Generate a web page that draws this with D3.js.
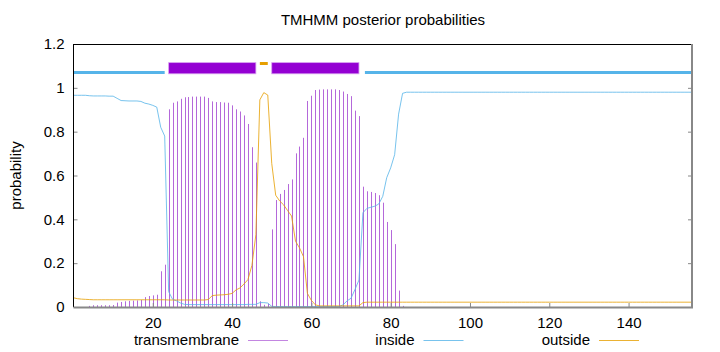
<!DOCTYPE html>
<html>
<head>
<meta charset="utf-8">
<script src="https://cdn.jsdelivr.net/npm/d3@7"></script>
<style>
body { margin: 0; background: #fff; }
text { font-family: "Liberation Sans", Arial, sans-serif; font-size: 15px; fill: #000; }
</style>
</head>
<body>
<svg width="720" height="352"></svg>
<script>
/* global d3 */

/////////////////////////////////////////////////////////////////////////
// data (posterior per residue; index = position)

var transmembrane = [
	0, 0, 0, 0, 0.005, 0.008, 0.008, 0.008, 0.008, 0.008,
	0.009, 0.02, 0.023, 0.026, 0.028, 0.029, 0.03, 0.032, 0.045, 0.05,
	0.053, 0.056, 0.163, 0.193, 0.902, 0.932, 0.938, 0.95, 0.957, 0.958,
	0.96, 0.96, 0.96, 0.96, 0.954, 0.938, 0.935, 0.935, 0.933, 0.932,
	0.92, 0.902, 0.892, 0.874, 0.835, 0.729, 0.659, 0.026, 0.01, 0.015,
	0.354, 0.488, 0.516, 0.534, 0.561, 0.582, 0.701, 0.732, 0.772, 0.94,
	0.964, 0.99, 0.992, 0.993, 0.993, 0.993, 0.993, 0.99, 0.983, 0.972,
	0.962, 0.896, 0.871, 0.549, 0.528, 0.525, 0.52, 0.51, 0.476, 0.388,
	0.351, 0.287, 0.075, 0.005, 0, 0, 0, 0, 0, 0,
	0, 0, 0, 0, 0, 0, 0, 0, 0, 0,
	0, 0, 0, 0, 0, 0, 0, 0, 0, 0,
	0, 0, 0, 0, 0, 0, 0, 0, 0, 0,
	0, 0, 0, 0, 0, 0, 0, 0, 0, 0,
	0, 0, 0, 0, 0, 0, 0, 0, 0, 0,
	0, 0, 0, 0, 0, 0, 0, 0, 0, 0,
	0, 0, 0, 0, 0, 0, 0
]

var inside = [
	0.966, 0.966, 0.966, 0.966, 0.964, 0.963, 0.963, 0.963, 0.963, 0.962,
	0.962, 0.952, 0.942, 0.941, 0.94, 0.94, 0.94, 0.938, 0.93, 0.926,
	0.92, 0.912, 0.82, 0.78, 0.07, 0.035, 0.028, 0.018, 0.012, 0.011,
	0.011, 0.011, 0.011, 0.011, 0.011, 0.011, 0.011, 0.011, 0.011, 0.011,
	0.011, 0.011, 0.011, 0.011, 0.012, 0.012, 0.012, 0.02, 0.02, 0.018,
	0.003, 0.002, 0.002, 0.002, 0.002, 0.002, 0.002, 0.002, 0.002, 0.002,
	0.002, 0.002, 0.002, 0.002, 0.002, 0.002, 0.002, 0.002, 0.01, 0.028,
	0.04, 0.08, 0.123, 0.43, 0.45, 0.455, 0.46, 0.47, 0.505, 0.59,
	0.635, 0.695, 0.88, 0.975, 0.98, 0.98, 0.98, 0.98, 0.98, 0.98,
	0.98, 0.98, 0.98, 0.98, 0.98, 0.98, 0.98, 0.98, 0.98, 0.98,
	0.98, 0.98, 0.98, 0.98, 0.98, 0.98, 0.98, 0.98, 0.98, 0.98,
	0.98, 0.98, 0.98, 0.98, 0.98, 0.98, 0.98, 0.98, 0.98, 0.98,
	0.98, 0.98, 0.98, 0.98, 0.98, 0.98, 0.98, 0.98, 0.98, 0.98,
	0.98, 0.98, 0.98, 0.98, 0.98, 0.98, 0.98, 0.98, 0.98, 0.98,
	0.98, 0.98, 0.98, 0.98, 0.98, 0.98, 0.98, 0.98, 0.98, 0.98,
	0.98, 0.98, 0.98, 0.98, 0.98, 0.98, 0.98
]

var outside = [
	0.042, 0.038, 0.036, 0.035, 0.034, 0.033, 0.033, 0.033, 0.033, 0.033,
	0.033, 0.033, 0.033, 0.033, 0.033, 0.033, 0.033, 0.033, 0.033, 0.033,
	0.033, 0.033, 0.033, 0.033, 0.032, 0.032, 0.032, 0.032, 0.032, 0.032,
	0.032, 0.032, 0.032, 0.032, 0.034, 0.052, 0.054, 0.055, 0.056, 0.058,
	0.062, 0.078, 0.087, 0.105, 0.125, 0.19, 0.33, 0.945, 0.978, 0.967,
	0.655, 0.51, 0.484, 0.466, 0.44, 0.415, 0.3, 0.27, 0.23, 0.062,
	0.03, 0.01, 0.005, 0.005, 0.005, 0.005, 0.005, 0.005, 0.005, 0.005,
	0.005, 0.005, 0.005, 0.02, 0.022, 0.022, 0.022, 0.022, 0.022, 0.022,
	0.022, 0.022, 0.022, 0.022, 0.022, 0.022, 0.022, 0.022, 0.022, 0.022,
	0.022, 0.022, 0.022, 0.022, 0.022, 0.022, 0.022, 0.022, 0.022, 0.022,
	0.022, 0.022, 0.022, 0.022, 0.022, 0.022, 0.022, 0.022, 0.022, 0.022,
	0.022, 0.022, 0.022, 0.022, 0.022, 0.022, 0.022, 0.022, 0.022, 0.022,
	0.022, 0.022, 0.022, 0.022, 0.022, 0.022, 0.022, 0.022, 0.022, 0.022,
	0.022, 0.022, 0.022, 0.022, 0.022, 0.022, 0.022, 0.022, 0.022, 0.022,
	0.022, 0.022, 0.022, 0.022, 0.022, 0.022, 0.022, 0.022, 0.022, 0.022,
	0.022, 0.022, 0.022, 0.022, 0.022, 0.022, 0.022
]

// predicted topology shown above the curves
var segType  = ['inside', 'transmembrane', 'outside', 'transmembrane', 'inside']
var segStart = [0, 24, 47, 50, 73.5]
var segEnd   = [23, 46, 49, 72, 156]

var xTicks = [20, 40, 60, 80, 100, 120, 140]
var yTicks = [0, 0.2, 0.4, 0.6, 0.8, 1, 1.2]
var yTickLabels = ['0', '0.2', '0.4', '0.6', '0.8', '1', '1.2']

var seriesNames = ['transmembrane', 'inside', 'outside']

/////////////////////////////////////////////////////////////////////////
// setup

var colors = { transmembrane: '#9400d3', inside: '#56b4e9', outside: '#e69f00' }

var svg = d3.select('svg')
var plotLeft = 73.5, plotRight = 692, plotTop = 44, plotBottom = 307

var x = d3.scaleLinear().domain([0, 156]).range([plotLeft, plotRight])
var y = d3.scaleLinear().domain([0, 1.2]).range([plotBottom, plotTop])

svg.append('text')
	.attr('x', 383).attr('y', 25)
	.attr('text-anchor', 'middle')
	.text('TMHMM posterior probabilities')

svg.append('text')
	.attr('transform', 'translate(16,' + (plotTop + plotBottom) / 2 + ') rotate(-90)')
	.attr('text-anchor', 'middle')
	.attr('dy', '0.35em')
	.text('probability')

/////////////////////////////////////////////////////////////////////////
// curves

var positions = d3.range(transmembrane.length)

// impulses, snapped to whole pixels so each one stays a thin crisp line
svg.append('g').selectAll('line')
	.data(positions.filter(function(i) { return transmembrane[i] > 0 }))
	.enter().append('line')
	.attr('x1', function(i) { return Math.round(x(i)) + 0.5 })
	.attr('x2', function(i) { return Math.round(x(i)) + 0.5 })
	.attr('y1', y(0))
	.attr('y2', function(i) { return y(transmembrane[i]) })
	.attr('stroke', '#b468da')
	.attr('stroke-width', 1)

var line = d3.line().x(function(d) { return x(d[0]) }).y(function(d) { return y(d[1]) })

;[['inside', inside], ['outside', outside]].forEach(function(s) {
	svg.append('path')
		.datum(positions.map(function(i) { return [i, s[1][i]] }))
		.attr('d', line)
		.attr('fill', 'none')
		.attr('stroke', colors[s[0]])
		.attr('stroke-opacity', 0.8)
		.attr('stroke-width', 1)
})

/////////////////////////////////////////////////////////////////////////
// topology bar

segType.forEach(function(t, i) {
	var x0 = x(segStart[i]), x1 = x(segEnd[i])
	if (t === 'transmembrane') {
		svg.append('rect')
			.attr('x', x0).attr('y', y(1.115))
			.attr('width', x1 - x0).attr('height', y(1.064) - y(1.115))
			.attr('fill', colors.transmembrane)
			.attr('stroke', '#d9a0f0').attr('stroke-width', 0.8)
	} else {
		var v = t === 'inside' ? 1.07 : 1.111
		svg.append('line')
			.attr('x1', x0).attr('x2', x1)
			.attr('y1', y(v)).attr('y2', y(v))
			.attr('stroke', colors[t])
			.attr('stroke-width', 3)
	}
})

/////////////////////////////////////////////////////////////////////////
// axes and border

var gx = svg.append('g')
	.attr('transform', 'translate(0,' + plotBottom + ')')
	.call(d3.axisBottom(x).tickValues(xTicks).tickSizeInner(-4).tickSizeOuter(0).tickPadding(10))
var gy = svg.append('g')
	.attr('transform', 'translate(' + plotLeft + ',0)')
	.call(d3.axisLeft(y).tickValues(yTicks).tickSizeInner(-4).tickSizeOuter(0).tickPadding(9)
		.tickFormat(function(d, i) { return yTickLabels[i] }))
var gr = svg.append('g')
	.attr('transform', 'translate(' + plotRight + ',0)')
	.call(d3.axisRight(y).tickValues(yTicks).tickSizeInner(-4).tickSizeOuter(0).tickFormat(''))

;[gx, gy, gr].forEach(function(g) {
	g.select('.domain').remove()
	g.selectAll('.tick line').attr('stroke', '#888')
	g.selectAll('.tick text').attr('font-family', null).attr('font-size', null).attr('fill', '#000')
})

svg.append('line').attr('x1', plotLeft).attr('x2', plotLeft).attr('y1', plotTop).attr('y2', plotBottom)
	.attr('stroke', '#000').attr('stroke-width', 1)
svg.append('line').attr('x1', plotLeft).attr('x2', plotRight).attr('y1', plotTop + 0.5).attr('y2', plotTop + 0.5)
	.attr('stroke', '#000').attr('stroke-width', 1)
svg.append('line').attr('x1', plotLeft).attr('x2', plotRight + 1).attr('y1', plotBottom + 0.5).attr('y2', plotBottom + 0.5)
	.attr('stroke', '#888').attr('stroke-width', 2)
svg.append('line').attr('x1', plotRight).attr('x2', plotRight).attr('y1', plotTop).attr('y2', plotBottom + 1)
	.attr('stroke', '#888').attr('stroke-width', 2)

/////////////////////////////////////////////////////////////////////////
// legend

var legend = svg.append('g').selectAll('g')
	.data(seriesNames)
	.enter().append('g')
	.attr('transform', function(d, i) { return 'translate(' + (248 + i * 175.5) + ',340)' })

legend.append('text')
	.attr('x', -9).attr('dy', '0.35em')
	.attr('text-anchor', 'end')
	.text(function(d) { return d })

legend.append('line')
	.attr('x1', 0).attr('x2', 40)
	.attr('y1', 0.5).attr('y2', 0.5)
	.attr('stroke', function(d) { return d === 'transmembrane' ? '#b468da' : colors[d] })
	.attr('stroke-opacity', 0.8)
	.attr('stroke-width', 1)
</script>
</body>
</html>
